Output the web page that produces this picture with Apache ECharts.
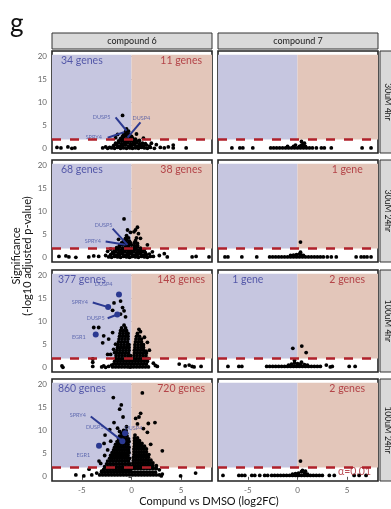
<!DOCTYPE html>
<html>
<head>
<meta charset="utf-8">
<script src="https://cdn.jsdelivr.net/npm/echarts@6/dist/echarts.min.js"></script>
<style>
  html, body { margin: 0; padding: 0; background: #fff; }
  #chart { width: 391px; height: 509px; }
</style>
</head>
<body>
<div id="chart"></div>
<script>
const compounds = ['compound 6', 'compound 7']
const doses = ['30uM 4hr', '30uM 24hr', '100uM 4hr', '100uM 24hr']
// significant genes per facet (down, up); 0 = no label
const downCounts = [[34, 68, 377, 860], [0, 0, 1, 0]]
const upCounts = [[11, 38, 148, 720], [0, 1, 2, 2]]
const alphaLine = 2 // -log10(0.01)
const yTicks = [0, 5, 10, 15, 20]
const xTicks = [-5, 0, 5]

// [log2FC, -log10 adj p]
const c6_30uM_4hr = [
  [-7.5,0.3],[-7.1,0.2],[-6.4,0.4],[-6.0,0.1],[-5.7,0.2],[-2.9,0.2],[-2.6,0.4],[-2.4,0.1],[-2.2,0.3],[2.9,0.3],[3.3,0.2],[3.7,0.4],[4.2,0.8],[4.2,0.2],[5.5,0.2],
  [-0.9,7.2],[-1.4,3.1],[0.5,3.2],[-1.6,2.4],[1.2,2.3],[2.0,1.2],[2.5,0.9],
  [-2.0,0.2],[-1.7,0.1],[-1.4,0.3],[-1.1,0.1],[-0.8,0.2],[-0.5,0.1],[-0.2,0.3],[0.1,0.1],[0.4,0.2],[0.7,0.1],[1.0,0.3],[1.3,0.2],[1.6,0.1],[1.9,0.3],[2.3,0.1],
  [-1.8,0.7],[-1.5,0.8],[-1.2,0.6],[-0.9,0.7],[-0.6,0.8],[-0.3,0.6],[0.0,0.7],[0.3,0.8],[0.6,0.6],[0.9,0.7],[1.2,0.6],[1.5,0.8],[1.8,0.6],
  [-1.6,1.2],[-1.3,1.3],[-1.0,1.1],[-0.7,1.2],[-0.4,1.3],[-0.1,1.1],[0.2,1.2],[0.5,1.3],[0.8,1.1],[1.1,1.2],[1.4,1.1],
  [-1.3,1.7],[-1.0,1.8],[-0.7,1.6],[-0.4,1.7],[-0.1,1.8],[0.2,1.6],[0.5,1.7],[0.8,1.8],
  [-1.1,2.2],[-0.8,2.3],[-0.5,2.1],[-0.2,2.2],[0.1,2.3],[0.4,2.1],
  [-0.9,2.7],[-0.6,2.8],[-0.3,2.6],[0.0,2.7],
  [-0.8,3.2],[-0.5,3.3],[-0.2,3.1],
  [-0.6,3.7],[-0.3,3.8],
  [-0.5,4.3]
]
const c6_30uM_24hr = [
  [-7.3,0.3],[-6.6,0.4],[-6.3,0.2],[-5.6,0.1],[-4.3,0.2],[-3.8,0.4],[-3.3,0.3],[-2.6,0.5],[2.2,0.3],[2.8,0.5],[3.3,0.9],[3.6,0.2],[6.1,0.2],[6.5,0.3],[7.8,0.2],
  [-0.75,8.4],[0.6,6.6],[0.4,6.0],[0.25,5.6],[-0.4,6.0],[-0.1,5.5],[0.7,5.2],[-2.1,1.9],[-2.4,1.4],[2.1,1.3],[1.6,2.8],[0.9,4.2],[-1.3,4.0],
  [-2.3,0.2],[-2.0,0.1],[-1.7,0.3],[-1.4,0.2],[-1.1,0.1],[-0.8,0.3],[-0.5,0.2],[-0.2,0.1],[0.1,0.3],[0.4,0.2],[0.7,0.1],[1.0,0.3],[1.3,0.2],[1.6,0.1],[1.9,0.3],
  [-2.1,0.7],[-1.8,0.8],[-1.5,0.6],[-1.2,0.7],[-0.9,0.8],[-0.6,0.6],[-0.3,0.7],[0.0,0.8],[0.3,0.6],[0.6,0.7],[0.9,0.8],[1.2,0.6],[1.5,0.7],[1.8,0.8],
  [-1.9,1.2],[-1.6,1.3],[-1.3,1.1],[-1.0,1.2],[-0.7,1.3],[-0.4,1.1],[-0.1,1.2],[0.2,1.3],[0.5,1.1],[0.8,1.2],[1.1,1.3],[1.4,1.1],
  [-1.7,1.7],[-1.4,1.8],[-1.1,1.6],[-0.8,1.7],[-0.5,1.8],[-0.2,1.6],[0.1,1.7],[0.4,1.8],[0.7,1.6],[1.0,1.7],[1.3,1.8],
  [-1.5,2.2],[-1.2,2.3],[-0.9,2.1],[-0.6,2.2],[-0.3,2.3],[0.0,2.1],[0.3,2.2],[0.6,2.3],[0.9,2.1],
  [-1.2,2.7],[-0.9,2.8],[-0.6,2.6],[-0.3,2.7],[0.0,2.8],[0.3,2.6],[0.6,2.7],
  [-1.0,3.2],[-0.7,3.3],[-0.4,3.1],[-0.1,3.2],[0.3,3.3],[0.6,3.1],
  [-0.8,3.7],[-0.5,3.8],[-0.2,3.6],[0.4,3.7],
  [-0.6,4.2],[-0.3,4.3],[0.5,4.3],
  [-0.5,4.8]
]
const c6_100uM_4hr = [
  [-1.76,14.0],[-1.9,12.4],[-1.1,14.4],[-0.9,13.0],[-0.75,12.3],[-1.1,11.6],[-0.6,11.0],[-3.8,8.7],[-3.3,8.7],[-2.8,6.9],[-2.9,5.4],[-1.9,7.6],[-2.3,6.2],[-1.6,5.1],
  [-1.8,4.0],[-2.1,2.9],[-2.4,2.9],[-1.7,3.3],[-3.9,1.9],[-3.9,1.2],[-7.0,0.4],[-6.9,0.1],[-3.9,0.3],[-3.0,0.2],[-2.8,0.4],[-2.6,0.1],[-2.3,0.3],[-2.0,0.6],
  [0.75,8.3],[0.9,7.8],[1.3,6.6],[1.6,5.5],[1.8,3.8],[1.45,3.6],[2.2,1.0],[2.4,0.5],[2.6,0.3],[4.8,0.8],[5.4,0.4],[5.8,0.6],[6.1,0.3],[6.3,0.2],[7.0,0.3],
  [-0.75,9.2],
  [-1.0,8.6],[-0.6,8.6],
  [-1.1,8.0],[-0.8,8.0],[-0.5,8.0],
  [-1.15,7.4],[-0.85,7.4],[-0.55,7.4],[-0.35,7.4],
  [-1.2,6.8],[-0.9,6.8],[-0.6,6.8],[-0.35,6.8],
  [-1.25,6.2],[-0.95,6.2],[-0.65,6.2],[-0.35,6.2],
  [-1.3,5.6],[-1.0,5.6],[-0.7,5.6],[-0.4,5.6],
  [-1.35,5.0],[-1.05,5.0],[-0.75,5.0],[-0.45,5.0],[-0.25,5.0],
  [-1.4,4.4],[-1.1,4.4],[-0.8,4.4],[-0.5,4.4],[-0.25,4.4],
  [-1.45,3.8],[-1.15,3.8],[-0.85,3.8],[-0.55,3.8],[-0.25,3.8],
  [-1.5,3.2],[-1.2,3.2],[-0.9,3.2],[-0.6,3.2],[-0.3,3.2],
  [-1.55,2.6],[-1.25,2.6],[-0.95,2.6],[-0.65,2.6],[-0.35,2.6],[-0.1,2.6],
  [-1.6,2.0],[-1.3,2.0],[-1.0,2.0],[-0.7,2.0],[-0.4,2.0],[-0.1,2.0],
  [-1.7,1.4],[-1.4,1.4],[-1.1,1.4],[-0.8,1.4],[-0.5,1.4],[-0.2,1.4],[0.1,1.4],
  [-1.8,0.8],[-1.5,0.8],[-1.2,0.8],[-0.9,0.8],[-0.6,0.8],[-0.3,0.8],[0.0,0.8],[0.3,0.8],[0.6,0.8],[0.9,0.8],[1.2,0.8],[1.5,0.8],
  [-1.9,0.2],[-1.6,0.2],[-1.3,0.2],[-1.0,0.2],[-0.7,0.2],[-0.4,0.2],[-0.1,0.2],[0.2,0.2],[0.5,0.2],[0.8,0.2],[1.1,0.2],[1.4,0.2],[1.7,0.2],
  [0.6,7.4],
  [0.5,6.8],[0.8,6.8],
  [0.45,6.2],[0.75,6.2],[1.0,6.2],
  [0.4,5.6],[0.7,5.6],[1.0,5.6],
  [0.35,5.0],[0.65,5.0],[0.95,5.0],[1.2,5.0],
  [0.35,4.4],[0.65,4.4],[0.95,4.4],[1.2,4.4],
  [0.3,3.8],[0.6,3.8],[0.9,3.8],[1.2,3.8],
  [0.3,3.2],[0.6,3.2],[0.9,3.2],[1.2,3.2],[1.5,3.2],
  [0.25,2.6],[0.55,2.6],[0.85,2.6],[1.15,2.6],[1.45,2.6],
  [0.2,2.0],[0.5,2.0],[0.8,2.0],[1.1,2.0],[1.4,2.0],[1.7,2.0],
  [0.4,1.4],[0.7,1.4],[1.0,1.4],[1.3,1.4],[1.6,1.4]
]
const c6_100uM_24hr = [
  [-1.83,17.1],[1.09,18.1],[-1.03,15.5],[-1.19,14.6],[-0.85,12.9],[0.42,12.6],[0.75,12.9],[0.92,13.7],[1.69,11.5],[2.36,11.7],[0.6,11.4],[-1.76,11.7],[-1.4,10.5],
  [-2.66,9.0],[-2.19,10.2],[-2.09,7.7],[-2.76,7.2],[3.1,5.6],[1.93,7.0],[-3.27,3.4],[-3.1,2.9],[-4.27,1.65],[-4.0,0.4],[-5.6,0.4],[-4.8,0.2],[3.1,0.6],[3.0,0.2],
  [4.94,0.2],[6.45,0.8],[1.6,9.6],[1.2,10.4],[-0.5,10.8],[-1.2,9.8],[2.5,2.4],[2.8,1.5],[-2.7,4.6],[-3.0,1.2],[-3.5,0.8],[-2.4,5.8],
  [-0.8,10.0],[-0.55,10.0],
  [-1.0,9.4],[-0.75,9.4],[-0.5,9.4],
  [-1.2,8.8],[-0.95,8.8],[-0.7,8.8],[-0.45,8.8],
  [-1.3,8.2],[-1.05,8.2],[-0.8,8.2],[-0.55,8.2],[-0.3,8.2],
  [-1.45,7.6],[-1.2,7.6],[-0.95,7.6],[-0.7,7.6],[-0.45,7.6],[-0.25,7.6],
  [-1.6,7.0],[-1.35,7.0],[-1.1,7.0],[-0.85,7.0],[-0.6,7.0],[-0.35,7.0],
  [-1.7,6.4],[-1.45,6.4],[-1.2,6.4],[-0.95,6.4],[-0.7,6.4],[-0.45,6.4],[-0.25,6.4],
  [-1.8,5.8],[-1.55,5.8],[-1.3,5.8],[-1.05,5.8],[-0.8,5.8],[-0.55,5.8],[-0.3,5.8],
  [-1.95,5.2],[-1.7,5.2],[-1.45,5.2],[-1.2,5.2],[-0.95,5.2],[-0.7,5.2],[-0.45,5.2],[-0.25,5.2],
  [-2.1,4.6],[-1.85,4.6],[-1.6,4.6],[-1.35,4.6],[-1.1,4.6],[-0.85,4.6],[-0.6,4.6],[-0.35,4.6],
  [-2.2,4.0],[-1.95,4.0],[-1.7,4.0],[-1.45,4.0],[-1.2,4.0],[-0.95,4.0],[-0.7,4.0],[-0.45,4.0],[-0.2,4.0],
  [-2.4,3.4],[-2.1,3.4],[-1.8,3.4],[-1.5,3.4],[-1.2,3.4],[-0.9,3.4],[-0.6,3.4],[-0.3,3.4],
  [-2.5,2.8],[-2.2,2.8],[-1.9,2.8],[-1.6,2.8],[-1.3,2.8],[-1.0,2.8],[-0.7,2.8],[-0.4,2.8],[-0.15,2.8],
  [-2.7,2.2],[-2.4,2.2],[-2.1,2.2],[-1.8,2.2],[-1.5,2.2],[-1.2,2.2],[-0.9,2.2],[-0.6,2.2],[-0.3,2.2],[-0.05,2.2],
  [-2.8,1.6],[-2.5,1.6],[-2.2,1.6],[-1.9,1.6],[-1.6,1.6],[-1.3,1.6],[-1.0,1.6],[-0.7,1.6],[-0.4,1.6],[-0.1,1.6],
  [-3.0,1.0],[-2.7,1.0],[-2.4,1.0],[-2.1,1.0],[-1.8,1.0],[-1.5,1.0],[-1.2,1.0],[-0.9,1.0],[-0.6,1.0],[-0.3,1.0],[0.0,1.0],[0.3,1.0],[0.6,1.0],[0.9,1.0],[1.2,1.0],[1.5,1.0],[1.8,1.0],[2.1,1.0],[2.4,1.0],
  [-3.2,0.4],[-2.9,0.4],[-2.6,0.4],[-2.3,0.4],[-2.0,0.4],[-1.7,0.4],[-1.4,0.4],[-1.1,0.4],[-0.8,0.4],[-0.5,0.4],[-0.2,0.4],[0.1,0.4],[0.4,0.4],[0.7,0.4],[1.0,0.4],[1.3,0.4],[1.6,0.4],[1.9,0.4],[2.2,0.4],[2.5,0.4],[2.8,0.4],
  [0.35,9.0],
  [0.3,8.4],[0.6,8.4],
  [0.3,7.8],[0.55,7.8],[0.8,7.8],
  [0.3,7.2],[0.55,7.2],[0.8,7.2],[1.05,7.2],
  [0.3,6.6],[0.55,6.6],[0.8,6.6],[1.05,6.6],[1.3,6.6],
  [0.25,6.0],[0.5,6.0],[0.75,6.0],[1.0,6.0],[1.25,6.0],[1.5,6.0],
  [0.25,5.4],[0.5,5.4],[0.75,5.4],[1.0,5.4],[1.25,5.4],[1.5,5.4],
  [0.25,4.8],[0.5,4.8],[0.75,4.8],[1.0,4.8],[1.25,4.8],[1.5,4.8],[1.75,4.8],
  [0.2,4.2],[0.45,4.2],[0.7,4.2],[0.95,4.2],[1.2,4.2],[1.45,4.2],[1.7,4.2],
  [0.2,3.6],[0.45,3.6],[0.7,3.6],[0.95,3.6],[1.2,3.6],[1.45,3.6],[1.7,3.6],[1.95,3.6],
  [0.15,3.0],[0.4,3.0],[0.65,3.0],[0.9,3.0],[1.15,3.0],[1.4,3.0],[1.65,3.0],[1.9,3.0],[2.15,3.0],
  [0.15,2.4],[0.4,2.4],[0.65,2.4],[0.9,2.4],[1.15,2.4],[1.4,2.4],[1.65,2.4],[1.9,2.4],[2.15,2.4],
  [0.1,1.8],[0.4,1.8],[0.7,1.8],[1.0,1.8],[1.3,1.8],[1.6,1.8],[1.9,1.8],[2.2,1.8],[2.5,1.8]
]
const c7_30uM_4hr = [
  [-6.6,0.2],[-5.8,0.2],[-5.5,0.2],[-4.5,0.2],
  [-2.7,0.2],[-2.4,0.2],[-2.1,0.2],[-1.8,0.2],[-1.5,0.2],[-1.2,0.2],[-0.9,0.2],[-0.6,0.2],[-0.3,0.2],[0.0,0.2],[0.3,0.2],[0.6,0.2],[0.9,0.2],[1.2,0.2],[1.5,0.2],
  [-1.0,0.5],[-0.4,0.5],[0.2,0.5],[0.5,0.5],[0.8,0.5],[-0.2,0.8],[0.4,0.8],
  [1.9,0.2],[2.4,0.2],[2.7,0.2],[3.4,0.2],[6.5,0.2],[7.4,0.2],[0.4,1.6],[0.7,1.2],[0.55,1.0]
]
const c7_30uM_24hr = [
  [-7.3,0.2],[-7.0,0.2],[-5.6,0.2],[-4.1,0.2],[-2.8,0.2],[-2.5,0.2],
  [-2.2,0.2],[-1.9,0.2],[-1.6,0.2],[-1.3,0.2],[-1.0,0.2],[-0.7,0.2],[-0.4,0.2],[-0.1,0.2],[0.2,0.2],[0.5,0.2],[0.8,0.2],[1.1,0.2],[1.4,0.2],[1.7,0.2],[2.0,0.2],[2.3,0.2],[2.6,0.2],
  [-0.4,0.6],[-0.1,0.7],[0.2,0.8],[0.3,1.2],[0.4,0.6],[0.6,0.5],[-0.7,0.5],
  [3.0,0.2],[3.4,0.2],[3.9,0.2],[5.9,0.2],[6.4,0.2],[6.7,0.2],[7.0,0.2],[7.4,0.2],[0.3,3.4]
]
const c7_100uM_4hr = [
  [-7.0,0.3],[-5.9,0.3],[-5.6,0.3],
  [-3.1,0.3],[-2.8,0.3],[-2.5,0.3],[-2.2,0.3],[-1.9,0.3],[-1.6,0.3],[-1.3,0.3],[-1.0,0.3],[-0.7,0.3],[-0.4,0.3],[-0.1,0.3],[0.2,0.3],[0.5,0.3],[0.8,0.3],[1.1,0.3],[1.4,0.3],[1.7,0.3],[2.0,0.3],[2.3,0.3],
  [-0.6,0.8],[-0.3,1.0],[-0.3,1.6],[0.0,0.9],[0.3,0.8],[0.4,1.2],[0.7,0.7],[1.0,0.6],[-0.9,0.6],
  [2.9,0.6],[3.3,0.2],[3.5,0.3],[5.2,0.3],[5.8,0.3],
  [-0.47,4.2],[0.43,4.7],[0.87,3.3]
]
const c7_100uM_24hr = [
  [-7.5,0.3],[-5.9,0.3],[-5.6,0.3],[-5.3,0.3],[-4.6,0.3],[-4.3,0.3],[-3.8,0.3],[-3.3,0.3],[-3.0,0.3],
  [-2.6,0.3],[-2.3,0.3],[-2.0,0.3],[-1.7,0.3],[-1.4,0.3],[-1.1,0.3],[-0.8,0.3],[-0.5,0.3],[-0.2,0.3],[0.1,0.3],[0.4,0.3],[0.7,0.3],[1.0,0.3],[1.3,0.3],[1.6,0.3],[1.9,0.3],[2.2,0.3],[2.5,0.3],
  [-0.2,0.7],[0.1,0.8],[0.4,1.1],[0.5,1.4],[0.7,0.8],[1.0,0.6],[0.8,1.2],[-0.5,0.6],
  [3.2,0.3],[3.7,0.3],[5.7,0.3],[6.2,0.3],[6.9,0.3],[0.3,3.4]
]

// highlighted genes: [gene, log2FC, -log10 p, drawn as big dot]
const hits_c6_30uM_4hr = [['DUSP5', -0.5, 3.9, false], ['DUSP4', -0.4, 2.4, false], ['SPRY4', -0.75, 3.6, false]]
const hits_c6_30uM_24hr = [['DUSP5', -0.4, 2.8, false], ['SPRY4', -0.6, 2.8, false]]
const hits_c6_100uM_4hr = [['DUSP4', -1.26, 15.8, true], ['SPRY4', -2.35, 13.1, true], ['DUSP5', -1.43, 11.5, true], ['EGR1', -3.6, 7.2, true]]
const hits_c6_100uM_24hr = [['SPRY4', -0.92, 7.7, true], ['DUSP5', -1.1, 8.4, false], ['DUSP4', -0.65, 9.4, true], ['EGR1', -3.27, 6.7, true]]

// repelled label spots, same order as hits: [text x, text y, segment start x, y]
const repel_c6_30uM_4hr = [[-3.0, 6.8, -1.6, 6.8], [1.0, 6.7, 0.9, 5.7], [-3.8, 2.5, -2.4, 2.4]]
const repel_c6_30uM_24hr = [[-2.8, 7.0, -1.9, 6.3], [-3.9, 3.5, -2.6, 3.5]]
const repel_c6_100uM_4hr = [[-2.8, 18.1, null, null], [-5.2, 14.2, -3.9, 14.1], [-3.6, 10.6, -2.4, 10.7], [-5.3, 6.7, null, null]]
const repel_c6_100uM_24hr = [[-5.4, 13.3, -4.1, 13.0], [-3.7, 10.75, null, null], [0.2, 10.5, null, null], [-4.85, 4.7, null, null]]

const panels = [
  { col: 0, row: 0, pts: c6_30uM_4hr, hits: hits_c6_30uM_4hr, repel: repel_c6_30uM_4hr },
  { col: 0, row: 1, pts: c6_30uM_24hr, hits: hits_c6_30uM_24hr, repel: repel_c6_30uM_24hr },
  { col: 0, row: 2, pts: c6_100uM_4hr, hits: hits_c6_100uM_4hr, repel: repel_c6_100uM_4hr },
  { col: 0, row: 3, pts: c6_100uM_24hr, hits: hits_c6_100uM_24hr, repel: repel_c6_100uM_24hr },
  { col: 1, row: 0, pts: c7_30uM_4hr, hits: [], repel: [] },
  { col: 1, row: 1, pts: c7_30uM_24hr, hits: [], repel: [] },
  { col: 1, row: 2, pts: c7_100uM_4hr, hits: [], repel: [] },
  { col: 1, row: 3, pts: c7_100uM_24hr, hits: [], repel: [] },
]

const downBlue = '#363b9a'
const upRed = '#a8232c'
const hitBlue = '#2b3991'
const font = 'Lato'
const colLeft = [52, 218]
const colWidth = 160
const rowTop = [51, 160, 270, 379]
const rowHeight = 102
const xMin = -8, xMax = 8.1, yMin = -0.9, yMax = 21.1, shadeTop = 20.3

const grids = [], xAxes = [], yAxes = [], series = [], graphics = []
const geneLabel = n => n === 1 ? '1 gene' : n + ' genes'

panels.forEach((p, i) => {
  const bottom = p.row === 3
  const left = p.col === 0
  grids.push({
    left: colLeft[p.col], top: rowTop[p.row], width: colWidth, height: rowHeight,
    show: true, backgroundColor: '#fff', borderColor: '#222', borderWidth: 1.6,
    outerBoundsMode: 'none',
  })
  xAxes.push({
    gridIndex: i, type: 'value', min: xMin, max: xMax,
    axisLine: { show: false }, splitLine: { show: false },
    axisTick: { show: bottom, customValues: xTicks, length: 3, lineStyle: { color: '#555' } },
    axisLabel: { show: bottom, customValues: xTicks, color: '#666', fontSize: 8, margin: 5, fontFamily: font },
  })
  yAxes.push({
    gridIndex: i, type: 'value', min: yMin, max: yMax,
    axisLine: { show: false }, splitLine: { show: false },
    axisTick: { show: left, customValues: yTicks, length: 3, lineStyle: { color: '#555' } },
    axisLabel: { show: left, customValues: yTicks, color: '#666', fontSize: 8, margin: 5, fontFamily: font },
  })

  const ax = { xAxisIndex: i, yAxisIndex: i, silent: true, animation: false }

  // down / up regions above the threshold
  series.push({
    ...ax, type: 'scatter', data: [], z: 1,
    markArea: {
      silent: true,
      data: [
        [{ xAxis: xMin, yAxis: alphaLine, itemStyle: { color: '#c6c6e0', opacity: 1 } }, { xAxis: 0, yAxis: shadeTop }],
        [{ xAxis: 0, yAxis: alphaLine, itemStyle: { color: '#e3c6ba', opacity: 1 } }, { xAxis: xMax, yAxis: shadeTop }],
      ],
    },
  })

  series.push({
    ...ax, type: 'scatter', data: p.pts, symbolSize: 3.8, z: 2,
    itemStyle: { color: '#000', opacity: 1, borderWidth: 0 },
  })

  // highlighted genes with repel segments
  const segs = []
  const labels = []
  p.hits.forEach((h, k) => {
    const r = p.repel[k]
    labels.push([r[0], r[1], h[0]])
    if (r[2] !== null) segs.push([{ coord: [r[2], r[3]] }, { coord: [h[1], h[2]] }])
  })
  series.push({
    ...ax, type: 'scatter', z: 3, symbolSize: 6,
    data: p.hits.filter(h => h[3]).map(h => [h[1], h[2]]),
    itemStyle: { color: hitBlue, opacity: 1, borderWidth: 0 },
    markLine: {
      silent: true, symbol: ['none', 'none'], label: { show: false },
      lineStyle: { color: hitBlue, width: 2, type: 'solid', opacity: 1 },
      data: segs,
    },
  })
  series.push({
    ...ax, type: 'scatter', z: 4, symbolSize: 0, data: labels,
    itemStyle: { color: 'transparent' },
    label: { show: true, position: 'inside', formatter: d => d.data[2], fontSize: 5.5, color: '#4652a4', fontFamily: font },
  })

  // counts
  const countData = []
  const nd = downCounts[p.col][p.row], nu = upCounts[p.col][p.row]
  if (nd) countData.push({ value: [-5, 19], label: { formatter: geneLabel(nd), color: downBlue } })
  if (nu) countData.push({ value: [5, 19], label: { formatter: geneLabel(nu), color: upRed } })
  if (p.col === 1 && p.row === 3) {
    countData.push({ value: [7.4, 1.1], label: { formatter: 'α=0.01', color: upRed, align: 'right' } })
  }
  series.push({
    ...ax, type: 'scatter', z: 5, symbolSize: 0, data: countData,
    itemStyle: { color: 'transparent' },
    label: { show: true, position: 'inside', fontSize: 10.5, fontFamily: font },
  })

  // alpha threshold
  series.push({
    ...ax, type: 'scatter', z: 6, data: [],
    markLine: {
      silent: true, symbol: ['none', 'none'], label: { show: false },
      lineStyle: { color: '#b0202a', width: 2.5, type: [9, 9], opacity: 1 },
      data: [{ yAxis: alphaLine }],
    },
  })
})

// facet strips
compounds.forEach((c, j) => {
  graphics.push({ type: 'rect', shape: { x: colLeft[j], y: 33, width: colWidth, height: 16 }, style: { fill: '#d9d9d9', stroke: '#333', lineWidth: 1 } })
  graphics.push({ type: 'text', x: colLeft[j] + colWidth / 2, y: 41, style: { text: c, fontSize: 9, fontFamily: font, fill: '#1a1a1a', align: 'center', verticalAlign: 'middle' } })
})
doses.forEach((d, r) => {
  graphics.push({ type: 'rect', shape: { x: 380, y: rowTop[r], width: 16, height: rowHeight }, style: { fill: '#d9d9d9', stroke: '#333', lineWidth: 1 } })
  graphics.push({ type: 'text', x: 387.5, y: rowTop[r] + rowHeight / 2, rotation: -Math.PI / 2, style: { text: d, fontSize: 8.5, fontFamily: font, fill: '#1a1a1a', align: 'center', verticalAlign: 'middle' } })
})
graphics.push({ type: 'text', x: 10, y: 24, style: { text: 'g', fontSize: 26, fontFamily: font, fill: '#111', align: 'left', verticalAlign: 'middle' } })
graphics.push({ type: 'text', x: 16.5, y: 256, rotation: Math.PI / 2, style: { text: 'Significance', fontSize: 11, fontFamily: font, fill: '#111', align: 'center', verticalAlign: 'middle' } })
graphics.push({ type: 'text', x: 27.5, y: 256, rotation: Math.PI / 2, style: { text: '(-log10 adjusted p-value)', fontSize: 11, fontFamily: font, fill: '#111', align: 'center', verticalAlign: 'middle' } })
graphics.push({ type: 'text', x: 209, y: 501, style: { text: 'Compund vs DMSO (log2FC)', fontSize: 11, fontFamily: font, fill: '#111', align: 'center', verticalAlign: 'middle' } })

const chart = echarts.init(document.getElementById('chart'))
chart.setOption({
  animation: false,
  backgroundColor: '#fff',
  textStyle: { fontFamily: font },
  grid: grids,
  xAxis: xAxes,
  yAxis: yAxes,
  series: series,
  graphic: graphics,
})
</script>
</body>
</html>
